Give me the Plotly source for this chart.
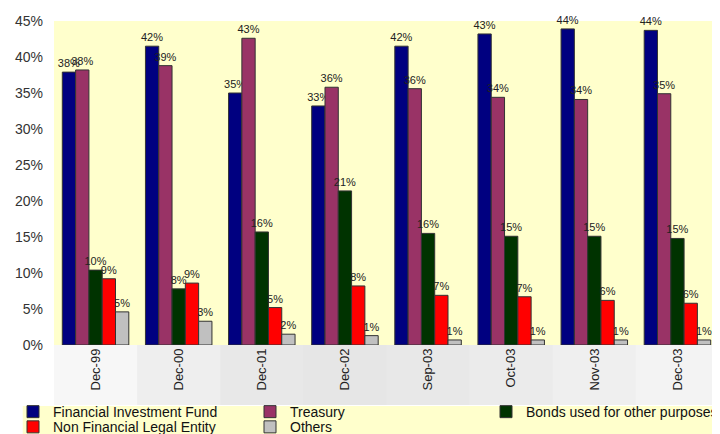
import plotly.graph_objects as go

categories = ["Dec-99", "Dec-00", "Dec-01", "Dec-02", "Sep-03", "Oct-03", "Nov-03", "Dec-03"]
fif = [37.9, 41.5, 35.0, 33.2, 41.5, 43.2, 43.9, 43.7]
treasury = [38.2, 38.8, 42.6, 35.8, 35.6, 34.4, 34.1, 34.9]
bonds = [10.4, 7.8, 15.7, 21.4, 15.5, 15.1, 15.1, 14.8]
nfle = [9.2, 8.6, 5.2, 8.2, 6.9, 6.7, 6.2, 5.8]
others = [4.6, 3.3, 1.5, 1.3, 0.7, 0.7, 0.7, 0.7]

series = [
    ("Financial Investment Fund", fif, "#000080", "legend"),
    ("Treasury", treasury, "#993366", "legend2"),
    ("Bonds used for other purposes", bonds, "#003300", "legend3"),
    ("Non Financial Legal Entity", nfle, "#FF0000", "legend4"),
    ("Others", others, "#C0C0C0", "legend5"),
]

fig = go.Figure()
for name, vals, color, lg in series:
    fig.add_trace(go.Bar(
        name=name, x=categories, y=vals, legend=lg,
        marker=dict(color=color, line=dict(color="#333333", width=1)),
        text=[f"{round(v):d}%" for v in vals],
        textposition="outside", textangle=0, constraintext="none",
        cliponaxis=False,
        textfont=dict(family="Arial, Liberation Sans, sans-serif", size=11, color="#222222"),
    ))

shapes = []
# gray band behind x labels (approximate gradient with strips)
grays = ["#f7f7f7", "#eeeeee", "#e8e8e8", "#e6e6e6", "#e8e8e8", "#ebebeb", "#efefef", "#f3f3f3"]
n = len(grays)
for i, g in enumerate(grays):
    shapes.append(dict(type="rect", xref="paper", yref="paper",
                       x0=i / n, x1=(i + 1) / n + 0.002, y0=-0.185, y1=0,
                       fillcolor=g, line=dict(width=0), layer="below"))
# legend yellow area
shapes.append(dict(type="rect", xref="paper", yref="paper",
                   x0=-0.047, x1=1.02, y0=-0.30, y1=-0.188,
                   fillcolor="#FFFFCC", line=dict(width=0), layer="below"))

legend_common = dict(orientation="v", yref="container", xref="container",
                     yanchor="middle", xanchor="left",
                     bgcolor="rgba(0,0,0,0)", font=dict(size=14, color="#111111"),
                     itemwidth=30, tracegroupgap=0)
row1, row2 = 0.069, 0.034
col1, col2, col3 = 5 / 720, 242 / 720, 478 / 720

fig.update_layout(
    width=720, height=434,
    margin=dict(l=46, r=9, t=13, b=97, autoexpand=False),
    barmode="group", bargap=0.2, bargroupgap=0,
    plot_bgcolor="#FFFFCC", paper_bgcolor="white",
    font=dict(family="Arial, Liberation Sans, sans-serif", color="#222222"),
    xaxis=dict(tickangle=-90, tickfont=dict(size=13, color="#222222"),
               showline=False, ticks="", showgrid=False),
    yaxis=dict(range=[0, 45], dtick=5, ticksuffix="%", showgrid=False,
               zeroline=False, tickfont=dict(size=14, color="#333333"),
               ticks="", ticklabelstandoff=10),
    legend=dict(legend_common, x=col1, y=row1),
    legend2=dict(legend_common, x=col2, y=row1),
    legend3=dict(legend_common, x=col3, y=row1),
    legend4=dict(legend_common, x=col1, y=row2),
    legend5=dict(legend_common, x=col2, y=row2),
    shapes=shapes,
    showlegend=True,
)

fig.write_html("out.html")
